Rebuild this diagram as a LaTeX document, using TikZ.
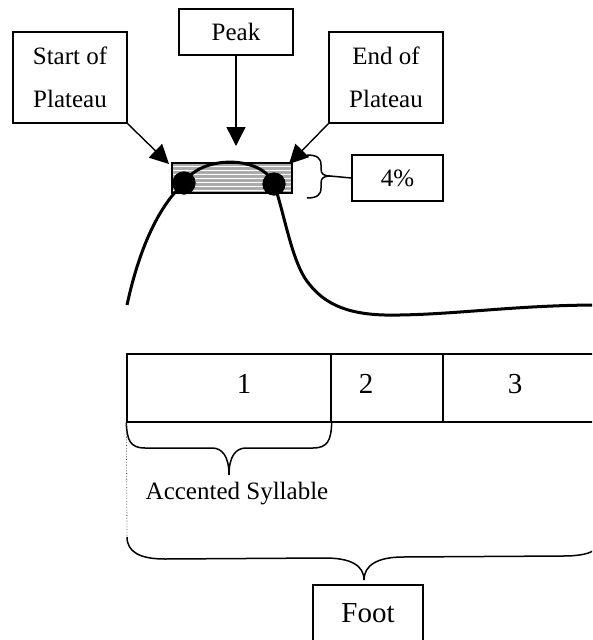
\documentclass[tikz,border=0pt]{standalone}
\usepackage{fontspec}
\setmainfont{Liberation Serif}
\usetikzlibrary{arrows.meta}
\newcommand\fsA{\fontsize{25}{30}\selectfont}
\newcommand\fsB{\fontsize{29}{34}\selectfont}
\tikzset{
  box/.style={draw, line width=1.4pt, inner sep=0pt, font=\fsA},
  cell/.style={draw, line width=1.4pt, inner sep=0pt, minimum height=68pt},
  lbl/.style={inner sep=0pt, anchor=base},
  pointer/.style={line width=1.4pt, -{Triangle[length=19pt,width=19pt]}},
  contour/.style={line width=3pt},
  bracket/.style={line width=1.5pt},
  dot/.style={circle, fill=black, inner sep=0pt, minimum size=23pt}
}
\begin{document}
\begin{tikzpicture}[x=1pt, y=-1pt]
\useasboundingbox (0,0) rectangle (592,640);
\clip (0,0) rectangle (592,640);
\fill[white] (0,0) rectangle (592,640);

% label boxes
\node[box, minimum width=114pt, minimum height=91pt, align=center] (start) at (70,77.5) {Start of\\[13pt]Plateau};
\node[box, minimum width=114pt, minimum height=46pt] (peak) at (236,32) {Peak};
\node[box, minimum width=114pt, minimum height=91pt, align=center] (end) at (386,77.5) {End of\\[13pt]Plateau};
\node[box, minimum width=91pt, minimum height=46pt] (pct) at (397.5,178) {4\%\hspace{20pt}};

% plateau band
\node[draw, line width=1.3pt, fill=black!33, minimum width=120pt, minimum height=30pt, inner sep=0pt] (plat) at (232,178) {};
\foreach \yy in {166,170,...,190}
  \draw[white, line width=0.9pt] (173,\yy) -- (291,\yy);
\draw[line width=1.3pt] (plat.north west) rectangle (plat.south east);

% contour
\coordinate (lend) at (127,305);
\coordinate (rend) at (600,305);
\node[dot] (d1) at (184,183) {};
\node[dot] (d2) at (274,184) {};
\draw[contour] (d1.center) .. controls (200,155) and (262,155) .. (d2.center);
\draw[contour] (d1.center) .. controls (160,205) and (140,245) .. (lend);
\draw[contour] (d2.center) .. controls (285,215) and (292,265) .. (310,285)
  .. controls (330,310) and (360,316) .. (400,315)
  .. controls (460,314) and (520,305) .. (rend);
\node[dot] at (d1) {};
\node[dot] at (d2) {};

% pointers
\coordinate (tS) at (169,164);
\coordinate (tP) at (236,146);
\coordinate (tE) at (289,164);
\draw[pointer] (start.south east) -- (tS);
\draw[pointer] (peak.south) -- (tP);
\draw[pointer] (end.south west) -- (tE);

% brace to 4%
\draw[bracket] (307,155) .. controls (317,155) and (321,158) .. (321,165) -- (321,169)
  .. controls (321,174) and (324,176) .. (330,176) -- (pct.west);
\draw[bracket] (307,198) .. controls (317,198) and (321,195) .. (321,188) -- (321,183)
  .. controls (321,178) and (324,176) .. (330,176);

% syllable cells
\node[cell, minimum width=204pt] (c1) at (229,388) {};
\node[cell, minimum width=112pt] (c2) at (387,388) {};
\node[cell, minimum width=220pt] (c3) at (553,388) {};
\node[lbl, font=\fsB] (n1) at (244,393) {1};
\node[lbl, font=\fsB] (n2) at (366,393) {2};
\node[lbl, font=\fsB] (n3) at (515,393) {3};

% accented syllable brace
\coordinate (atip) at (229,475);
\draw[bracket] (c1.south west) .. controls (127,440) and (130,448) .. (145,448) -- (212,448)
  .. controls (222,448) and (229,456) .. (atip)
  .. controls (229,456) and (236,448) .. (246,448) -- (313,448)
  .. controls (328,448) and (331,440) .. (c1.south east);
\node[lbl, font=\fsA] (acc) at (237,499) {Accented Syllable};

% dotted guide
\coordinate (fl) at (127,537);
\draw[dotted, line width=0.8pt, black!70] (c1.south west) -- (fl);

% foot brace
\coordinate (fr) at (601,537);
\coordinate (ftip) at (364,580);
\draw[bracket] (fl) .. controls (127,552) and (140,559) .. (165,559) -- (325,558)
  .. controls (350,558) and (364,565) .. (ftip)
  .. controls (364,565) and (378,557) .. (403,557) -- (563,556)
  .. controls (590,556) and (601,550) .. (fr);

\node[box, font=\fsB, minimum width=110pt, minimum height=56pt] (foot) at (368,613) {Foot};
\end{tikzpicture}
\end{document}
